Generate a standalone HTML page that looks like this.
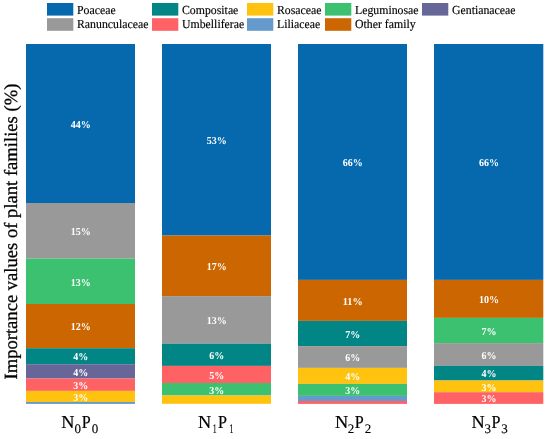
<!DOCTYPE html>
<html><head><meta charset="utf-8"><title>Importance values of plant families</title>
<style>
html,body{margin:0;padding:0;background:#fff;}
body{width:550px;height:439px;overflow:hidden;position:relative;}
svg{display:block;position:absolute;left:0;top:0;will-change:transform;}
text{font-family:"Liberation Serif",serif;text-rendering:geometricPrecision;}
</style></head><body>
<svg width="550" height="439" viewBox="0 0 550 439">

<rect x="26" y="44" width="109.00" height="159.00" fill="#0669ae"/>
<rect x="26" y="203" width="109.00" height="55.60" fill="#999999"/>
<rect x="26" y="258.6" width="109.00" height="45.40" fill="#3bc16f"/>
<rect x="26" y="304" width="109.00" height="44.20" fill="#cc6600"/>
<rect x="26" y="348.2" width="109.00" height="16.00" fill="#028585"/>
<rect x="26" y="364.2" width="109.00" height="14.30" fill="#666699"/>
<rect x="26" y="378.5" width="109.00" height="12.40" fill="#ff6264"/>
<rect x="26" y="390.9" width="109.00" height="11.10" fill="#ffc20f"/>
<rect x="26" y="402" width="109.00" height="1.90" fill="#6699cc"/>
<rect x="162" y="44" width="109.00" height="191.60" fill="#0669ae"/>
<rect x="162" y="235.6" width="109.00" height="60.50" fill="#cc6600"/>
<rect x="162" y="296.1" width="109.00" height="47.60" fill="#999999"/>
<rect x="162" y="343.7" width="109.00" height="22.20" fill="#028585"/>
<rect x="162" y="365.9" width="109.00" height="17.10" fill="#ff6264"/>
<rect x="162" y="383.0" width="109.00" height="12.50" fill="#3bc16f"/>
<rect x="162" y="395.5" width="109.00" height="8.30" fill="#ffc20f"/>
<rect x="298" y="44" width="109.00" height="235.90" fill="#0669ae"/>
<rect x="298" y="279.9" width="109.00" height="41.00" fill="#cc6600"/>
<rect x="298" y="320.9" width="109.00" height="25.20" fill="#028585"/>
<rect x="298" y="346.1" width="109.00" height="21.80" fill="#999999"/>
<rect x="298" y="367.9" width="109.00" height="16.00" fill="#ffc20f"/>
<rect x="298" y="383.9" width="109.00" height="12.00" fill="#3bc16f"/>
<rect x="298" y="395.9" width="109.00" height="5.10" fill="#6699cc"/>
<rect x="298" y="401" width="109.00" height="2.90" fill="#ff6264"/>
<rect x="434" y="44" width="109.30" height="235.90" fill="#0669ae"/>
<rect x="434" y="279.9" width="109.30" height="38.00" fill="#cc6600"/>
<rect x="434" y="317.9" width="109.30" height="25.20" fill="#3bc16f"/>
<rect x="434" y="343.1" width="109.30" height="22.80" fill="#999999"/>
<rect x="434" y="365.9" width="109.30" height="14.60" fill="#028585"/>
<rect x="434" y="380.5" width="109.30" height="11.70" fill="#ffc20f"/>
<rect x="434" y="392.2" width="109.30" height="11.70" fill="#ff6264"/>
<text x="80.80" y="127.75" text-anchor="middle" font-size="10.6" font-weight="bold" fill="#fff" textLength="20" lengthAdjust="spacingAndGlyphs">44%</text>
<text x="80.80" y="235.05" text-anchor="middle" font-size="10.6" font-weight="bold" fill="#fff" textLength="20" lengthAdjust="spacingAndGlyphs">15%</text>
<text x="80.80" y="285.55" text-anchor="middle" font-size="10.6" font-weight="bold" fill="#fff" textLength="20" lengthAdjust="spacingAndGlyphs">13%</text>
<text x="80.80" y="330.35" text-anchor="middle" font-size="10.6" font-weight="bold" fill="#fff" textLength="20" lengthAdjust="spacingAndGlyphs">12%</text>
<text x="80.80" y="360.45" text-anchor="middle" font-size="10.6" font-weight="bold" fill="#fff" textLength="15" lengthAdjust="spacingAndGlyphs">4%</text>
<text x="80.80" y="375.60" text-anchor="middle" font-size="10.6" font-weight="bold" fill="#fff" textLength="15" lengthAdjust="spacingAndGlyphs">4%</text>
<text x="80.80" y="388.95" text-anchor="middle" font-size="10.6" font-weight="bold" fill="#fff" textLength="15" lengthAdjust="spacingAndGlyphs">3%</text>
<text x="80.80" y="400.70" text-anchor="middle" font-size="10.6" font-weight="bold" fill="#fff" textLength="15" lengthAdjust="spacingAndGlyphs">3%</text>
<text x="216.80" y="144.05" text-anchor="middle" font-size="10.6" font-weight="bold" fill="#fff" textLength="20" lengthAdjust="spacingAndGlyphs">53%</text>
<text x="216.80" y="270.10" text-anchor="middle" font-size="10.6" font-weight="bold" fill="#fff" textLength="20" lengthAdjust="spacingAndGlyphs">17%</text>
<text x="216.80" y="324.15" text-anchor="middle" font-size="10.6" font-weight="bold" fill="#fff" textLength="20" lengthAdjust="spacingAndGlyphs">13%</text>
<text x="216.80" y="359.05" text-anchor="middle" font-size="10.6" font-weight="bold" fill="#fff" textLength="15" lengthAdjust="spacingAndGlyphs">6%</text>
<text x="216.80" y="378.70" text-anchor="middle" font-size="10.6" font-weight="bold" fill="#fff" textLength="15" lengthAdjust="spacingAndGlyphs">5%</text>
<text x="216.80" y="393.50" text-anchor="middle" font-size="10.6" font-weight="bold" fill="#fff" textLength="15" lengthAdjust="spacingAndGlyphs">3%</text>
<text x="352.80" y="166.20" text-anchor="middle" font-size="10.6" font-weight="bold" fill="#fff" textLength="20" lengthAdjust="spacingAndGlyphs">66%</text>
<text x="352.80" y="304.65" text-anchor="middle" font-size="10.6" font-weight="bold" fill="#fff" textLength="20" lengthAdjust="spacingAndGlyphs">11%</text>
<text x="352.80" y="337.75" text-anchor="middle" font-size="10.6" font-weight="bold" fill="#fff" textLength="15" lengthAdjust="spacingAndGlyphs">7%</text>
<text x="352.80" y="361.25" text-anchor="middle" font-size="10.6" font-weight="bold" fill="#fff" textLength="15" lengthAdjust="spacingAndGlyphs">6%</text>
<text x="352.80" y="380.15" text-anchor="middle" font-size="10.6" font-weight="bold" fill="#fff" textLength="15" lengthAdjust="spacingAndGlyphs">4%</text>
<text x="352.80" y="394.15" text-anchor="middle" font-size="10.6" font-weight="bold" fill="#fff" textLength="15" lengthAdjust="spacingAndGlyphs">3%</text>
<text x="488.95" y="166.20" text-anchor="middle" font-size="10.6" font-weight="bold" fill="#fff" textLength="20" lengthAdjust="spacingAndGlyphs">66%</text>
<text x="488.95" y="303.15" text-anchor="middle" font-size="10.6" font-weight="bold" fill="#fff" textLength="20" lengthAdjust="spacingAndGlyphs">10%</text>
<text x="488.95" y="334.75" text-anchor="middle" font-size="10.6" font-weight="bold" fill="#fff" textLength="15" lengthAdjust="spacingAndGlyphs">7%</text>
<text x="488.95" y="358.75" text-anchor="middle" font-size="10.6" font-weight="bold" fill="#fff" textLength="15" lengthAdjust="spacingAndGlyphs">6%</text>
<text x="488.95" y="377.45" text-anchor="middle" font-size="10.6" font-weight="bold" fill="#fff" textLength="15" lengthAdjust="spacingAndGlyphs">4%</text>
<text x="488.95" y="390.60" text-anchor="middle" font-size="10.6" font-weight="bold" fill="#fff" textLength="15" lengthAdjust="spacingAndGlyphs">3%</text>
<text x="488.95" y="402.30" text-anchor="middle" font-size="10.6" font-weight="bold" fill="#fff" textLength="15" lengthAdjust="spacingAndGlyphs">3%</text>
<rect x="47" y="3" width="26.3" height="12.6" fill="#0669ae"/>
<text x="77" y="13.80" font-size="12.3" fill="#000" textLength="38.64" lengthAdjust="spacingAndGlyphs" stroke="#000" stroke-width="0.15">Poaceae</text>
<rect x="152" y="3" width="26.3" height="12.6" fill="#028585"/>
<text x="182" y="13.80" font-size="12.3" fill="#000" textLength="56.36" lengthAdjust="spacingAndGlyphs" stroke="#000" stroke-width="0.15">Compositae</text>
<rect x="247" y="3" width="26.3" height="12.6" fill="#ffc20f"/>
<text x="277" y="13.80" font-size="12.3" fill="#000" textLength="44.54" lengthAdjust="spacingAndGlyphs" stroke="#000" stroke-width="0.15">Rosaceae</text>
<rect x="325" y="3" width="26.3" height="12.6" fill="#3bc16f"/>
<text x="355" y="13.80" font-size="12.3" fill="#000" textLength="63.55" lengthAdjust="spacingAndGlyphs" stroke="#000" stroke-width="0.15">Leguminosae</text>
<rect x="422" y="3" width="26.3" height="12.6" fill="#666699"/>
<text x="452" y="13.80" font-size="12.3" fill="#000" textLength="63.52" lengthAdjust="spacingAndGlyphs" stroke="#000" stroke-width="0.15">Gentianaceae</text>
<rect x="47" y="18.2" width="26.3" height="12.6" fill="#999999"/>
<text x="77" y="28.20" font-size="12.3" fill="#000" textLength="71.39" lengthAdjust="spacingAndGlyphs" stroke="#000" stroke-width="0.15">Ranunculaceae</text>
<rect x="152" y="18.2" width="26.3" height="12.6" fill="#ff6264"/>
<text x="182" y="28.20" font-size="12.3" fill="#000" textLength="62.23" lengthAdjust="spacingAndGlyphs" stroke="#000" stroke-width="0.15">Umbelliferae</text>
<rect x="247" y="18.2" width="26.3" height="12.6" fill="#6699cc"/>
<text x="277" y="28.20" font-size="12.3" fill="#000" textLength="43.22" lengthAdjust="spacingAndGlyphs" stroke="#000" stroke-width="0.15">Liliaceae</text>
<rect x="325" y="18.2" width="26.3" height="12.6" fill="#cc6600"/>
<text x="355" y="28.20" font-size="12.3" fill="#000" textLength="60.60" lengthAdjust="spacingAndGlyphs" stroke="#000" stroke-width="0.15">Other family</text>
<text transform="translate(16.6,379.5) rotate(-90)" font-size="18.6" fill="#000" stroke="#000" stroke-width="0.3">Importance values of plant families (%)</text>
<text x="61.20" y="427.7" font-size="18.3" fill="#000" stroke="#000" stroke-width="0.2">N</text>
<text transform="translate(74.40,433.2) scale(1,1)" font-size="13" fill="#000" stroke="#000" stroke-width="0.15">0</text>
<text transform="translate(81.80,427.7) scale(0.88,1)" font-size="18.3" fill="#000" stroke="#000" stroke-width="0.2">P</text>
<text transform="translate(91.70,433.2) scale(1,1)" font-size="13" fill="#000" stroke="#000" stroke-width="0.15">0</text>
<text x="198.00" y="427.7" font-size="18.3" fill="#000" stroke="#000" stroke-width="0.2">N</text>
<text transform="translate(212.70,433.2) scale(0.6,1)" font-size="13" fill="#000" stroke="#000" stroke-width="0.15">1</text>
<text transform="translate(218.00,427.7) scale(0.88,1)" font-size="18.3" fill="#000" stroke="#000" stroke-width="0.2">P</text>
<text transform="translate(229.40,433.2) scale(0.6,1)" font-size="13" fill="#000" stroke="#000" stroke-width="0.15">1</text>
<text x="335.10" y="427.7" font-size="18.3" fill="#000" stroke="#000" stroke-width="0.2">N</text>
<text transform="translate(347.80,433.2) scale(1,1)" font-size="13" fill="#000" stroke="#000" stroke-width="0.15">2</text>
<text transform="translate(354.70,427.7) scale(0.88,1)" font-size="18.3" fill="#000" stroke="#000" stroke-width="0.2">P</text>
<text transform="translate(364.70,433.2) scale(1,1)" font-size="13" fill="#000" stroke="#000" stroke-width="0.15">2</text>
<text x="471.60" y="427.7" font-size="18.3" fill="#000" stroke="#000" stroke-width="0.2">N</text>
<text transform="translate(484.50,433.2) scale(1,1)" font-size="13" fill="#000" stroke="#000" stroke-width="0.15">3</text>
<text transform="translate(491.50,427.7) scale(0.88,1)" font-size="18.3" fill="#000" stroke="#000" stroke-width="0.2">P</text>
<text transform="translate(501.30,433.2) scale(1,1)" font-size="13" fill="#000" stroke="#000" stroke-width="0.15">3</text>
</svg>
</body></html>
